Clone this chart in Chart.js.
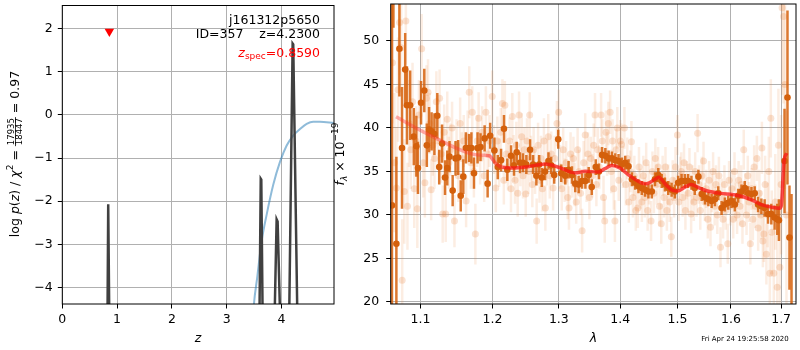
<!DOCTYPE html>
<html>
<head>
<meta charset="utf-8">
<script src="https://cdn.jsdelivr.net/npm/chart.js@4.4.1/dist/chart.umd.min.js"></script>
<style>
  body { margin: 0; background: #fff; }
  #wrap { position: relative; width: 800px; height: 350px; }
  canvas { position: absolute; left: 0; top: 0; }
</style>
</head>
<body>
<div id="wrap">
  <canvas id="pz" width="800" height="350"></canvas>
  <canvas id="spec" width="800" height="350"></canvas>
</div>
<script>
// ---------- redshift panel ----------
const zTicks = [0, 1, 2, 3, 4];
const pzTicks = [-4, -3, -2, -1, 0, 1, 2];

// log p(z), spikes at the peaks, everything else far below the axis
const zGrid = [0, 0.80, 0.826, 0.838, 0.843, 0.856, 0.90, 3.55, 3.600, 3.622, 3.632, 3.655, 3.72,
  3.85, 3.878, 3.912, 3.930, 3.972, 4.05, 4.12, 4.143, 4.204, 4.215, 4.288, 4.35, 4.96];
const logPz = [-9, -9, -4.5, -2.07, -2.07, -4.5, -9, -9, -4.5, -1.48, -1.50, -4.5, -9,
  -9, -4.5, -2.42, -2.47, -4.5, -9, -9, -4.5, 1.65, 1.63, -4.5, -9, -9];

const zPrior = [3.45, 3.498, 3.559, 3.639, 3.73, 3.85, 3.973, 4.095, 4.215, 4.338, 4.46, 4.58, 4.70, 4.96];
const logPrior = [-5.3, -4.38, -3.75, -2.92, -2.31, -1.62, -1.09, -0.71, -0.48, -0.33, -0.21, -0.16, -0.16, -0.19];

const zSpec = [0.859];
const zSpecMark = [1.93];

const objName = 'j161312p5650';
const idLine = 'ID=357    z=4.2300';
const zSpecText = '=0.8590';
const stamp = 'Fri Apr 24 19:25:58 2020';

// ---------- spectrum panel ----------
const lamTicks = [1.1, 1.2, 1.3, 1.4, 1.5, 1.6, 1.7];
const fluxTicks = [20, 25, 30, 35, 40, 45, 50];

const lamModel = [1.068, 1.0991, 1.1257, 1.1484, 1.1716, 1.1904, 1.1952, 1.2047, 1.2144, 1.229,
  1.2489, 1.279, 1.2997, 1.326, 1.3419, 1.3635, 1.3744, 1.3854, 1.3993, 1.4134,
  1.4362, 1.4448, 1.4593, 1.4663, 1.4798, 1.4917, 1.5007, 1.5157, 1.5248, 1.5399,
  1.5554, 1.5805, 1.6059, 1.6253, 1.6448, 1.6613, 1.678, 1.6969, 1.7003, 1.706, 1.7115];
const fluxModel = [41.28, 39.76, 38.62, 37.68, 36.99, 36.84, 36.80, 35.90, 35.48, 35.40,
  35.51, 35.86, 35.48, 34.83, 35.02, 34.94, 35.32, 35.67, 35.40, 34.64,
  33.69, 33.58, 34.07, 34.34, 33.43, 32.82, 32.75, 33.28, 33.50, 33.12,
  32.75, 32.48, 32.33, 32.06, 31.61, 31.15, 30.93, 30.77, 31.04, 36.16, 37.10];

// binned spectrum
const lamBin = [
  1.0628, 1.0647, 1.0685, 1.0724, 1.0758, 1.0799, 1.0822, 1.0864, 1.0912, 1.0946,
  1.0967, 1.1008, 1.1051, 1.1085, 1.1115, 1.1149, 1.1187, 1.1226, 1.1252, 1.1291,
  1.1331, 1.1362, 1.1393, 1.1436, 1.1476, 1.1512, 1.1548, 1.1584, 1.1620, 1.1665,
  1.1698, 1.1734, 1.1785, 1.1827, 1.1886, 1.1929, 1.1966, 1.2027, 1.2076, 1.2124,
  1.2167, 1.2216, 1.2271, 1.2315, 1.2355, 1.2405, 1.2450, 1.2500, 1.2556, 1.2602,
  1.2652, 1.2694, 1.2735, 1.2786, 1.2838, 1.2880, 1.2927, 1.2990, 1.3037, 1.3100,
  1.3153, 1.3207, 1.3260, 1.3314, 1.3369, 1.3423, 1.3477, 1.3526, 1.3592, 1.3644,
  1.3696, 1.3750, 1.3805, 1.3861, 1.3916, 1.3971, 1.4028, 1.4084, 1.4140, 1.4198,
  1.4254, 1.4311, 1.4369, 1.4426, 1.4484, 1.4543, 1.4600, 1.4658, 1.4718, 1.4776,
  1.4835, 1.4895, 1.4954, 1.5013, 1.5075, 1.5135, 1.5194, 1.5256, 1.5317, 1.5385,
  1.5446, 1.5507, 1.5571, 1.5632, 1.5694, 1.5758, 1.5821, 1.5884, 1.5949, 1.6013,
  1.6076, 1.6142, 1.6206, 1.6270, 1.6337, 1.6402, 1.6467, 1.6534, 1.6600, 1.6665,
  1.6733, 1.6800, 1.6866, 1.6921, 1.6955, 1.7070, 1.7131, 1.7172, 1.7215];
const fluxBin = [
  31.1, 56.0, 26.7, 49.1, 37.7, 46.7, 42.6, 42.6, 39.0, 37.9,
  35.4, 42.9, 44.3, 38.0, 39.8, 39.6, 39.3, 41.4, 35.5, 38.2,
  34.3, 35.4, 36.7, 32.8, 36.5, 36.6, 32.2, 34.4, 37.7, 37.7,
  37.7, 34.8, 37.7, 37.8, 38.8, 33.6, 39.1, 37.4, 35.5, 36.3,
  39.9, 35.2, 36.8, 35.7, 37.2, 36.0, 36.0, 35.8, 37.5, 35.8,
  34.5, 35.8, 34.3, 35.0, 36.2, 35.7, 34.6, 38.7, 34.8, 34.5,
  35.2, 34.6, 33.6, 33.5, 33.9, 33.9, 34.6, 33.2, 35.5, 35.0,
  36.9, 36.8, 36.5, 36.5, 36.3, 36.2, 35.8, 36.0, 35.6, 34.1,
  33.7, 33.3, 33.1, 32.9, 32.7, 32.7, 34.1, 34.6, 33.9, 33.5,
  33.1, 32.9, 32.7, 33.7, 33.9, 33.9, 33.9, 33.7, 33.1, 34.4,
  32.4, 32.0, 31.8, 31.6, 31.8, 32.5, 30.8, 31.2, 31.4, 31.6,
  31.2, 32.2, 32.7, 33.1, 32.5, 32.4, 32.5, 31.2, 31.0, 30.8,
  30.1, 30.1, 29.7, 29.5, 29.4, 36.2, 43.5, 27.4, 19.0];
const errBin = [
  24, 4.5, 10, 5.5, 7, 4.2, 4.5, 4, 3.3, 3.5,
  3, 2.5, 2.5, 2.5, 2.6, 2.2, 2.4, 2.6, 2.0, 2.2,
  2.0, 2.0, 1.8, 1.8, 2.0, 2.0, 1.8, 2.0, 1.8, 1.6,
  1.8, 1.8, 1.8, 1.6, 1.5, 1.6, 1.5, 1.5, 1.4, 1.3,
  1.6, 1.3, 1.2, 1.2, 1.2, 1.2, 1.1, 1.1, 1.2, 1.1,
  1.1, 1.1, 1.1, 1.0, 1.0, 1.0, 1.0, 1.1, 1.0, 1.0,
  1.0, 1.0, 1.0, 1.0, 0.9, 0.9, 0.9, 0.9, 0.9, 0.9,
  0.9, 0.9, 0.9, 0.8, 0.8, 0.8, 0.8, 0.8, 0.8, 0.8,
  0.8, 0.8, 0.8, 0.8, 0.8, 0.8, 0.8, 0.8, 0.8, 0.8,
  0.8, 0.8, 0.8, 0.8, 0.8, 0.8, 0.8, 0.8, 0.8, 0.8,
  0.8, 0.8, 0.8, 0.8, 0.8, 0.8, 0.8, 0.8, 0.8, 0.8,
  0.8, 0.8, 0.8, 0.8, 0.8, 0.8, 0.8, 0.9, 0.9, 1.0,
  1.1, 1.2, 1.4, 1.8, 2.4, 6, 10, 6, 13.4];

// individual exposures
const lamObs = [
  1.0635, 1.0660, 1.0685, 1.0706, 1.0727, 1.0747, 1.0760, 1.0788, 1.0808, 1.0829,
  1.0850, 1.0872, 1.0895, 1.0918, 1.0940, 1.0958, 1.0980, 1.1016, 1.1037, 1.1059,
  1.1080, 1.1101, 1.1122, 1.1143, 1.1165, 1.1188, 1.1213, 1.1235, 1.1257, 1.1278,
  1.1299, 1.1320, 1.1340, 1.1362, 1.1384, 1.1406, 1.1428, 1.1461, 1.1490, 1.1515,
  1.1540, 1.1563, 1.1590, 1.1623, 1.1645, 1.1667, 1.1690, 1.1710, 1.1733, 1.1754,
  1.1778, 1.1800, 1.1822, 1.1850, 1.1880, 1.1904, 1.1930, 1.1955, 1.1995, 1.2020,
  1.2047, 1.2070, 1.2095, 1.2120, 1.2144, 1.2165, 1.2180, 1.2200, 1.2225, 1.2250,
  1.2270, 1.2290, 1.2310, 1.2330, 1.2350, 1.2370, 1.2390, 1.2410, 1.2430, 1.2450,
  1.2470, 1.2490, 1.2510, 1.2530, 1.2550, 1.2570, 1.2590, 1.2610, 1.2632, 1.2656,
  1.2678, 1.2700, 1.2722, 1.2745, 1.2768, 1.2790, 1.2812, 1.2835, 1.2858, 1.2880,
  1.2910, 1.2935, 1.2970, 1.2997, 1.3020, 1.3045, 1.3068, 1.3090, 1.3115, 1.3140,
  1.3160, 1.3185, 1.3208, 1.3230, 1.3252, 1.3275, 1.3298, 1.3320, 1.3345, 1.3370,
  1.3395, 1.3420, 1.3442, 1.3465, 1.3488, 1.3510, 1.3535, 1.3558, 1.3580, 1.3602,
  1.3625, 1.3650, 1.3680, 1.3700, 1.3720, 1.3740, 1.3760, 1.3780, 1.3800, 1.3830,
  1.3850, 1.3870, 1.3890, 1.3910, 1.3930, 1.3950, 1.3975, 1.4000, 1.4020, 1.4045,
  1.4070, 1.4095, 1.4120, 1.4145, 1.4170, 1.4190, 1.4215, 1.4240, 1.4265, 1.4300,
  1.4320, 1.4345, 1.4370, 1.4395, 1.4420, 1.4445, 1.4470, 1.4495, 1.4530, 1.4555,
  1.4580, 1.4605, 1.4630, 1.4655, 1.4680, 1.4710, 1.4735, 1.4760, 1.4785, 1.4810,
  1.4835, 1.4860, 1.4890, 1.4915, 1.4940, 1.4965, 1.5000, 1.5025, 1.5050, 1.5070,
  1.5095, 1.5120, 1.5145, 1.5170, 1.5195, 1.5220, 1.5250, 1.5275, 1.5300, 1.5325,
  1.5350, 1.5370, 1.5395, 1.5420, 1.5448, 1.5480, 1.5505, 1.5530, 1.5560, 1.5585,
  1.5610, 1.5635, 1.5660, 1.5690, 1.5715, 1.5740, 1.5770, 1.5800, 1.5825, 1.5850,
  1.5875, 1.5900, 1.5940, 1.5965, 1.5990, 1.6020, 1.6045, 1.6070, 1.6095, 1.6120,
  1.6150, 1.6175, 1.6200, 1.6225, 1.6250, 1.6280, 1.6305, 1.6330, 1.6355, 1.6380,
  1.6405, 1.6430, 1.6455, 1.6480, 1.6510, 1.6535, 1.6560, 1.6585, 1.6610, 1.6630,
  1.6650, 1.6675, 1.6700, 1.6725, 1.6750, 1.6770, 1.6790, 1.6810, 1.6850, 1.6880,
  1.6920, 1.6945, 1.6975, 1.7000, 1.7020, 1.7050, 1.7080, 1.7110];
const fluxObs = [
  47.5, 36.0, 33.1, 44.4, 52.1, 49.2, 22.5, 32.7, 52.3, 31.0,
  40.5, 37.5, 43.0, 33.0, 38.5, 30.7, 41.5, 49.1, 36.0, 33.7,
  43.4, 44.1, 40.5, 32.9, 38.0, 36.5, 43.0, 38.5, 43.4, 37.0,
  30.1, 39.5, 30.1, 41.0, 36.0, 37.5, 40.0, 29.3, 38.0, 34.5,
  40.5, 36.5, 38.5, 31.6, 39.0, 44.1, 36.0, 41.8, 35.0, 27.8,
  38.5, 41.1, 36.5, 39.5, 34.5, 41.8, 37.0, 38.5, 43.6, 37.5,
  33.1, 38.5, 36.0, 39.5, 42.8, 34.0, 42.6, 37.0, 35.5, 38.5,
  33.0, 41.3, 36.5, 34.0, 38.0, 32.5, 41.5, 36.0, 39.0, 34.5,
  37.5, 32.4, 38.5, 35.0, 41.5, 36.5, 33.5, 37.5, 35.0, 29.3,
  38.0, 34.0, 36.5, 33.0, 38.5, 30.8, 36.0, 39.0, 34.5, 37.0,
  33.1, 36.5, 40.5, 41.8, 35.5, 33.0, 37.5, 34.0, 36.0, 32.0,
  30.8, 37.0, 34.5, 36.5, 33.5, 31.5, 37.5, 35.0, 32.5, 28.2,
  36.0, 39.2, 34.0, 37.0, 32.0, 36.5, 34.5, 38.0, 41.5, 33.5,
  37.5, 35.5, 41.5, 38.5, 32.0, 29.3, 39.5, 37.0, 40.5, 41.8,
  35.0, 38.5, 33.0, 29.3, 37.5, 40.0, 34.0, 38.5, 38.1, 35.5,
  40.0, 33.5, 36.5, 31.5, 35.0, 38.4, 32.0, 34.5, 30.5, 30.8,
  35.5, 33.0, 31.5, 34.5, 32.0, 36.0, 30.5, 33.5, 29.3, 35.0,
  32.5, 36.5, 33.5, 35.5, 31.0, 29.0, 34.5, 32.0, 35.5, 30.5,
  33.5, 31.5, 27.5, 34.0, 32.0, 35.5, 39.2, 31.5, 34.5, 35.0,
  32.0, 36.0, 30.5, 34.0, 32.5, 35.5, 30.1, 33.5, 31.5, 35.0,
  32.0, 39.4, 33.5, 30.5, 34.5, 36.2, 31.5, 33.0, 29.5, 34.0,
  28.6, 32.5, 35.0, 31.0, 33.5, 30.0, 34.5, 26.3, 32.0, 29.5,
  33.5, 30.5, 26.7, 34.0, 31.0, 33.0, 29.5, 35.0, 31.5, 30.0,
  34.0, 31.0, 33.5, 29.0, 37.5, 32.5, 30.0, 34.5, 31.5, 26.7,
  33.0, 29.5, 35.5, 31.0, 36.5, 28.5, 32.5, 30.0, 37.7, 27.0,
  27.8, 33.5, 25.5, 30.0, 35.0, 23.3, 41.1, 28.0, 23.3, 31.5,
  21.7, 38.0, 24.0, 33.5, 53.8, 52.8, 45.0, 30.0];
const errObs = [
  7, 8, 7, 6, 6, 5.5, 7, 6, 5, 5,
  5, 4.5, 4.5, 4.5, 4, 4.5, 4, 4, 4, 4,
  3.8, 3.8, 3.5, 3.5, 3.5, 3.5, 3.5, 3.3, 3.3, 3.3,
  3.3, 3.2, 3.2, 3.2, 3, 3, 3, 3, 3, 3,
  3, 3, 3, 3, 3, 3, 3, 3, 3, 3.5,
  3, 3, 3, 3, 3, 3, 3, 3, 3, 2.8,
  2.8, 2.8, 2.8, 2.8, 2.8, 2.8, 2.8, 2.7, 2.7, 2.7,
  2.7, 2.7, 2.7, 2.7, 2.7, 2.7, 2.7, 2.7, 2.7, 2.6,
  2.6, 2.6, 2.6, 2.6, 2.6, 2.6, 2.6, 2.6, 2.6, 2.6,
  2.6, 2.6, 2.6, 2.6, 2.6, 2.6, 2.6, 2.6, 2.6, 2.6,
  2.6, 2.6, 2.6, 2.6, 2.5, 2.5, 2.5, 2.5, 2.5, 2.5,
  2.5, 2.5, 2.5, 2.5, 2.5, 2.5, 2.5, 2.5, 2.5, 2.5,
  2.5, 2.5, 2.5, 2.5, 2.5, 2.5, 2.5, 2.5, 2.5, 2.5,
  2.5, 2.5, 2.5, 2.5, 2.5, 2.5, 2.5, 2.5, 2.5, 2.5,
  2.5, 2.5, 2.4, 2.4, 2.4, 2.4, 2.4, 2.4, 2.4, 2.4,
  2.4, 2.4, 2.4, 2.4, 2.4, 2.4, 2.3, 2.3, 2.3, 2.3,
  2.3, 2.3, 2.3, 2.3, 2.3, 2.3, 2.3, 2.3, 2.3, 2.3,
  2.3, 2.3, 2.3, 2.3, 2.3, 2.3, 2.3, 2.3, 2.3, 2.3,
  2.3, 2.3, 2.3, 2.3, 2.3, 2.3, 2.3, 2.2, 2.2, 2.2,
  2.2, 2.2, 2.2, 2.2, 2.2, 2.2, 2.2, 2.2, 2.2, 2.2,
  2.2, 2.2, 2.2, 2.2, 2.2, 2.2, 2.2, 2.2, 2.2, 2.2,
  2.2, 2.2, 2.2, 2.2, 2.2, 2.2, 2.2, 2.3, 2.2, 2.2,
  2.2, 2.2, 2.3, 2.2, 2.2, 2.2, 2.2, 2.2, 2.2, 2.2,
  2.2, 2.2, 2.2, 2.3, 2.3, 2.3, 2.3, 2.3, 2.3, 2.4,
  2.4, 2.4, 2.5, 2.5, 2.6, 2.6, 2.7, 2.8, 3.0, 3.0,
  3.2, 3.3, 3.5, 3.7, 4, 4.5, 4.5, 4.8, 5, 5.5,
  6, 6.5, 7, 8, 10, 10, 12, 12];

// ---------- helpers ----------
const FAM = '"DejaVu Sans"';
const fN = `12.5px ${FAM}`;
const fI = `italic 12.5px ${FAM}`;
const fS = `9px ${FAM}`;
const fSI = `italic 9px ${FAM}`;

const pts = (xs, ys) => xs.map((x, i) => ({ x, y: ys[i] }));
const fixedTicks = vals => scale => { scale.ticks = vals.map(v => ({ value: v })); };
const minus = v => (v < 0 ? '\u2212' + Math.abs(v) : String(v));
// pin an axis box to a fixed size and drop the label overflow padding
const pinSize = (key, size) => s => {
  s[key] = size;
  s.paddingTop = s.paddingBottom = s.paddingLeft = s.paddingRight = 0;
};

// draw a row of text pieces (plain, sub/superscripts, a stacked fraction)
function drawRuns(ctx, x, y, parts, align) {
  let w = 0;
  parts.forEach(p => {
    ctx.font = p.font;
    p.w = p.b ? Math.max(ctx.measureText(p.t).width, ctx.measureText(p.b).width) + 2
              : ctx.measureText(p.t).width;
    w += p.w;
  });
  let cx = align === 'right' ? x - w : align === 'center' ? x - w / 2 : x;
  ctx.textBaseline = 'middle';
  parts.forEach(p => {
    ctx.font = p.font;
    if (p.b) {
      ctx.textAlign = 'center';
      ctx.fillText(p.t, cx + p.w / 2, y - 4.2);
      ctx.fillText(p.b, cx + p.w / 2, y + 3.4);
      ctx.fillRect(cx, y - 0.9, p.w, 0.8);
    } else {
      ctx.textAlign = 'left';
      ctx.fillText(p.t, cx, y + (p.dy || 0));
    }
    cx += p.w;
  });
}

// vertical error bars, drawn just before the dataset's markers
const errorBars = {
  id: 'errorBars',
  beforeDatasetDraw(chart, args) {
    const ds = chart.data.datasets[args.index];
    if (!ds.errors) return;
    const { ctx, chartArea: a, scales: { x, y } } = chart;
    ctx.save();
    ctx.beginPath();
    ctx.rect(a.left, a.top, a.right - a.left, a.bottom - a.top);
    ctx.clip();
    ctx.strokeStyle = ds.errorColor;
    ctx.lineWidth = ds.errorWidth;
    ds.data.forEach((p, i) => {
      const px = x.getPixelForValue(p.x);
      ctx.beginPath();
      ctx.moveTo(px, y.getPixelForValue(p.y - ds.errors[i]));
      ctx.lineTo(px, y.getPixelForValue(p.y + ds.errors[i]));
      ctx.stroke();
    });
    ctx.restore();
  }
};

// full box around the plotting area
const frame = {
  id: 'frame',
  afterDatasetsDraw(chart) {
    const { ctx, chartArea: a } = chart;
    ctx.save();
    ctx.strokeStyle = '#000';
    ctx.lineWidth = 1;
    ctx.strokeRect(a.left, a.top, a.right - a.left, a.bottom - a.top);
    ctx.restore();
  }
};

const gridOpts = { color: '#b0b0b0', lineWidth: 1, tickColor: '#000', tickLength: 4.5, tickWidth: 1 };
const tickFont = { family: 'DejaVu Sans', size: 12.5 };
const titleFont = { family: 'DejaVu Sans', size: 12.5, style: 'italic' };

// ---------- p(z) chart ----------
const pzLabels = {
  id: 'pzLabels',
  afterDraw(chart) {
    const ctx = chart.ctx;
    ctx.save();
    ctx.fillStyle = '#000';
    drawRuns(ctx, 320, 20.5, [{ t: objName, font: fN }], 'right');
    drawRuns(ctx, 320, 35, [{ t: idLine, font: fN }], 'right');
    ctx.fillStyle = 'red';
    drawRuns(ctx, 320, 53.5, [
      { t: 'z', font: fI }, { t: 'spec', font: fS, dy: 3 }, { t: zSpecText, font: fN }
    ], 'right');
    // rotated axis label with the chi-square fraction
    ctx.fillStyle = '#000';
    ctx.translate(16, 154);
    ctx.rotate(-Math.PI / 2);
    drawRuns(ctx, 0, 0, [
      { t: 'log ', font: fN }, { t: 'p', font: fI }, { t: '(', font: fN }, { t: 'z', font: fI },
      { t: ') / ', font: fN }, { t: '\u03c7', font: fI }, { t: '2', font: fS, dy: -5 },
      { t: ' = ', font: fN }, { t: '17935', b: '18447', font: `8.5px ${FAM}` },
      { t: ' = 0.97', font: fN }
    ], 'center');
    ctx.restore();
  }
};

new Chart(document.getElementById('pz'), {
  type: 'scatter',
  data: {
    datasets: [
      {
        type: 'line', data: pts(zGrid, logPz), borderColor: '#404040', borderWidth: 2.5,
        pointRadius: 0, tension: 0, clip: 0, order: 1
      },
      {
        type: 'line', data: pts(zPrior, logPrior), borderColor: 'rgba(31,119,180,0.5)', borderWidth: 2,
        pointRadius: 0, cubicInterpolationMode: 'monotone', clip: 0, order: 2
      },
      {
        data: pts(zSpec, zSpecMark), pointStyle: 'triangle', rotation: 180, pointRadius: 5.5,
        backgroundColor: 'red', borderColor: 'red', borderWidth: 0, clip: 0, order: 0
      }
    ]
  },
  options: {
    responsive: false,
    animation: false,
    layout: { padding: { left: 0, top: 1, right: 466, bottom: 0 } },
    plugins: { legend: { display: false }, tooltip: { enabled: false } },
    scales: {
      x: {
        type: 'linear', min: 0, max: 4.959,
        afterBuildTicks: fixedTicks(zTicks),
        afterFit: pinSize('height', 46),
        grid: gridOpts, border: { display: false },
        ticks: { font: tickFont, color: '#000', padding: 4, maxRotation: 0, callback: v => String(v) },
        title: { display: true, text: 'z', font: titleFont, color: '#000', padding: { top: 4, bottom: 4 } }
      },
      y: {
        type: 'linear', min: -4.381, max: 2.532,
        afterBuildTicks: fixedTicks(pzTicks),
        afterFit: pinSize('width', 62.3),
        grid: gridOpts, border: { display: false },
        ticks: { font: tickFont, color: '#000', padding: 5, callback: minus }
      }
    }
  },
  plugins: [frame, pzLabels]
});

// ---------- spectrum chart ----------
const specLabels = {
  id: 'specLabels',
  afterDraw(chart) {
    const ctx = chart.ctx;
    ctx.save();
    ctx.fillStyle = '#000';
    drawRuns(ctx, 745, 339, [{ t: stamp, font: `7px ${FAM}` }], 'center');
    ctx.translate(341, 154);
    ctx.rotate(-Math.PI / 2);
    drawRuns(ctx, 0, 0, [
      { t: 'f', font: fI }, { t: '\u03bb', font: fSI, dy: 3.5 },
      { t: ' \u00d7 10', font: fN }, { t: '\u221219', font: fS, dy: -5 }
    ], 'center');
    ctx.restore();
  }
};

new Chart(document.getElementById('spec'), {
  type: 'scatter',
  data: {
    datasets: [
      {
        type: 'line', data: pts(lamModel, fluxModel), borderWidth: 3.5, pointRadius: 0,
        cubicInterpolationMode: 'monotone', clip: 0, order: 0,
        borderColor: 'rgba(250,20,20,0.75)',
        segment: {
          borderColor: c => {
            const x = c.p0.parsed.x;
            return x < 1.18 ? 'rgba(255,50,50,0.4)' : x < 1.21 ? 'rgba(255,40,40,0.55)' : 'rgba(250,20,20,0.75)';
          }
        }
      },
      {
        data: pts(lamBin, fluxBin), errors: errBin,
        errorColor: 'rgba(214,96,10,0.85)', errorWidth: 2.5,
        pointRadius: 3.3, backgroundColor: '#d4600c', borderWidth: 0, clip: 0, order: 1
      },
      {
        data: pts(lamObs, fluxObs), errors: errObs,
        errorColor: 'rgba(232,125,50,0.14)', errorWidth: 2.5,
        pointRadius: 3.5, backgroundColor: 'rgba(232,125,50,0.22)', borderWidth: 0, clip: 0, order: 2
      }
    ]
  },
  options: {
    responsive: false,
    animation: false,
    layout: { padding: { left: 336, top: 1, right: 1, bottom: 0 } },
    plugins: { legend: { display: false }, tooltip: { enabled: false } },
    scales: {
      x: {
        type: 'logarithmic', min: 1.0612, max: 1.7308,
        afterBuildTicks: fixedTicks(lamTicks),
        afterFit: pinSize('height', 46),
        grid: gridOpts, border: { display: false },
        ticks: { font: tickFont, color: '#000', padding: 4, maxRotation: 0, autoSkip: false, callback: v => Number(v).toFixed(1) },
        title: { display: true, text: '\u03bb', font: titleFont, color: '#000', padding: { top: 4, bottom: 4 } }
      },
      y: {
        type: 'linear', min: 19.77, max: 54.24,
        afterBuildTicks: fixedTicks(fluxTicks),
        afterFit: pinSize('width', 54.7),
        grid: gridOpts, border: { display: false },
        ticks: { font: tickFont, color: '#000', padding: 7, callback: v => String(v) }
      }
    }
  },
  plugins: [errorBars, frame, specLabels]
});
</script>
</body>
</html>
